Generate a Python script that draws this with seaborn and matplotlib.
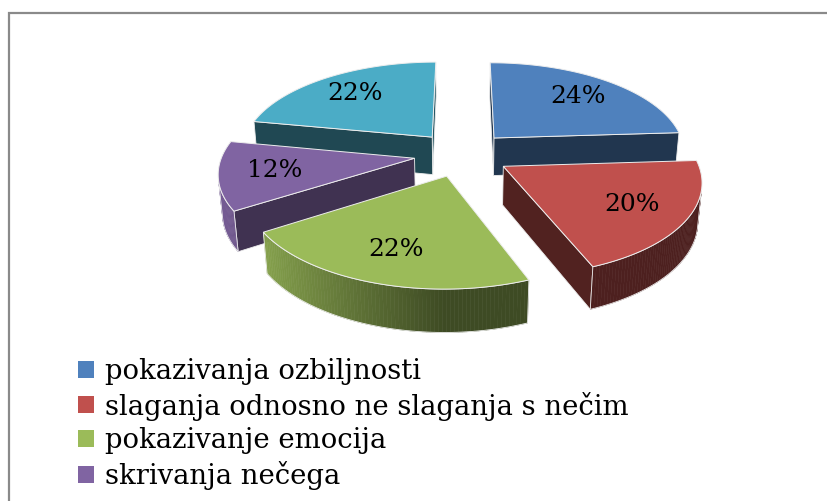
import numpy as np
import matplotlib
matplotlib.use("Agg")
import matplotlib.pyplot as plt
import seaborn as sns
from matplotlib.patches import Polygon, Patch, Rectangle
from matplotlib.colors import to_rgb

# ---------------- data ----------------
categories = ["pokazivanja ozbiljnosti",
              "slaganja odnosno ne slaganja s nečim",
              "pokazivanje emocija",
              "skrivanja nečega",
              "ostalo"]
values = [24, 20, 22, 12, 22]
legend_labels = categories[:4]
slice_colors = ["#4F81BD", "#C0504D", "#9BBB59", "#8064A2", "#4BACC6"]

# ---------------- style ----------------
sns.set_theme(style="white")
plt.rcParams["font.family"] = ["DejaVu Serif"]
plt.rcParams["text.color"] = "black"
palette = sns.color_palette(slice_colors)

W, H = 827, 501
fig = plt.figure(figsize=(W / 100, H / 100), dpi=100)
ax = fig.add_axes([0, 0, 1, 1])
ax.set_xlim(0, W)
ax.set_ylim(H, 0)
ax.axis("off")

# 3D pie geometry (pixel units)
R = 192.0          # radius
EXPL = 48.0        # explode distance
DEPTH = 44.0       # thickness
sa = 0.469
ca = np.sqrt(1 - sa ** 2)
DIST = 1200.0      # camera distance
CX, CY = 462.0, 154.0
cam = np.array([0.0, -DIST * ca, DIST * sa])


def proj(u, v, h):
    z = DIST + v * ca - h * sa
    return CX + DIST * u / z, CY - DIST * (v * sa + h * ca) / z


def zdepth(u, v, h):
    return DIST + v * ca - h * sa


def shade(c, f):
    r, g, b = to_rgb(c)
    return (r * f, g * f, b * f)


def light(nu):
    return 0.4 + 0.55 * max(0.0, -nu)


total = float(sum(values))
starts = np.concatenate([[0], np.cumsum(values)[:-1]]) / total * 360.0
spans = np.array(values) / total * 360.0

slices = []
for i, (s, sp) in enumerate(zip(starts, spans)):
    mid = np.radians(s + sp / 2)
    au, av = EXPL * np.sin(mid), EXPL * np.cos(mid)
    th = np.radians(np.linspace(s, s + sp, max(int(sp), 2) + 1))
    slices.append(dict(i=i, th=th, au=au, av=av, mid=mid,
                       depth=zdepth(au + 0.5 * R * np.sin(mid), av + 0.5 * R * np.cos(mid), 0)))

edge_col = (0.93, 0.93, 0.93)

for sl in sorted(slices, key=lambda d: -d["depth"]):
    i, th, au, av = sl["i"], sl["th"], sl["au"], sl["av"]
    col = palette[i]
    faces = []
    # flat radial faces (uniformly dark)
    for ang, nrm in [(th[0], (-np.cos(th[0]), np.sin(th[0]))),
                     (th[-1], (np.cos(th[-1]), -np.sin(th[-1])))]:
        eu, ev = au + R * np.sin(ang), av + R * np.cos(ang)
        pm = np.array([(au + eu) / 2, (av + ev) / 2, -DEPTH / 2])
        if np.dot([nrm[0], nrm[1], 0], cam - pm) > 0:
            pts = [proj(au, av, 0), proj(eu, ev, 0), proj(eu, ev, -DEPTH), proj(au, av, -DEPTH)]
            f = 0.5 if nrm[0] > 0.3 else 0.42
            faces.append((zdepth(*pm), pts, shade(col, f), True))
    # curved outer side (gradient)
    strip_top, strip_bot = [], []
    for a0, a1 in zip(th[:-1], th[1:]):
        am = (a0 + a1) / 2
        pm = np.array([au + R * np.sin(am), av + R * np.cos(am), -DEPTH / 2])
        nrm = np.array([np.sin(am), np.cos(am), 0])
        if np.dot(nrm, cam - pm) > 0:
            p0 = (au + R * np.sin(a0), av + R * np.cos(a0))
            p1 = (au + R * np.sin(a1), av + R * np.cos(a1))
            pts = [proj(*p0, 0), proj(*p1, 0), proj(*p1, -DEPTH), proj(*p0, -DEPTH)]
            faces.append((zdepth(*pm), pts, shade(col, light(nrm[0])), False))
            if not strip_top:
                strip_top.append(proj(*p0, 0)); strip_bot.append(proj(*p0, -DEPTH))
            strip_top.append(proj(*p1, 0)); strip_bot.append(proj(*p1, -DEPTH))
    for _, pts, fc, outline in sorted(faces, key=lambda f: -f[0]):
        ax.add_patch(Polygon(pts, closed=True, facecolor=fc,
                             edgecolor=edge_col if outline else fc,
                             linewidth=0.6 if outline else 0.4, zorder=2))
    if strip_top:
        outline_pts = strip_top + strip_bot[::-1]
        ax.add_patch(Polygon(outline_pts, closed=True, facecolor="none",
                             edgecolor=edge_col, linewidth=0.6, zorder=2))
    # top face
    top = [proj(au, av, 0)] + [proj(au + R * np.sin(a), av + R * np.cos(a), 0) for a in th]
    ax.add_patch(Polygon(top, closed=True, facecolor=col, edgecolor=edge_col,
                         linewidth=0.7, zorder=2))
    # label
    lu = au + 0.72 * R * np.sin(sl["mid"])
    lv = av + 0.72 * R * np.cos(sl["mid"])
    lx, ly = proj(lu, lv, 0)
    ax.text(lx, ly, f"{values[i]}%", ha="center", va="center",
            fontsize=18, color="black", zorder=3)

# legend
handles = [Patch(facecolor=palette[k], edgecolor="none") for k in range(len(legend_labels))]
leg = fig.legend(handles, legend_labels, loc="upper left",
                 bbox_to_anchor=(78 / W, 1 - 358 / H), frameon=False,
                 fontsize=19.8, handlelength=0.58, handleheight=0.58,
                 handletextpad=0.4, labelspacing=0.24, borderpad=0, borderaxespad=0,
                 labelcolor="black")

# chart area border (cropped at right/bottom)
fig.patches.append(Rectangle((9 / W, -0.05), 1.2, 1 - 13 / H + 0.05,
                             transform=fig.transFigure, fill=False,
                             edgecolor="#8a8a8a", linewidth=1.6))

fig.savefig("out.png", dpi=100)
